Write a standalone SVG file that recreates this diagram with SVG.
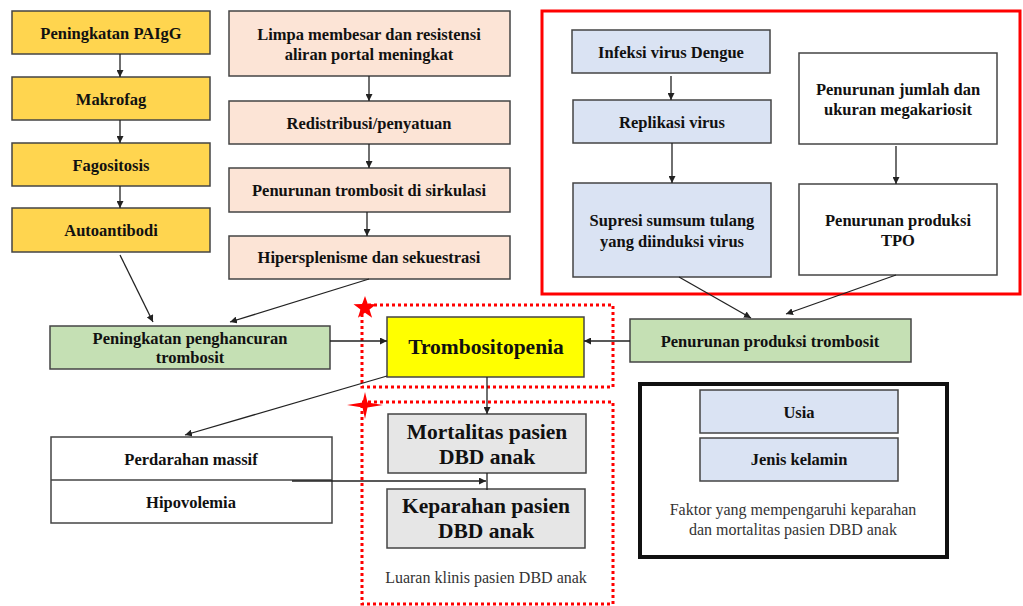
<svg xmlns="http://www.w3.org/2000/svg" width="1023" height="606" viewBox="0 0 1023 606">
<defs>
<marker id="ah" viewBox="0 0 10 10" refX="10" refY="5" markerWidth="7" markerHeight="7" orient="auto" markerUnits="userSpaceOnUse">
<path d="M0,0 L10,5 L0,10 z" fill="#222"/>
</marker>
<style>
.b{stroke:#444;stroke-width:1.5}
.gold{fill:#FFD54F}
.peach{fill:#FCE4D6}
.blue{fill:#DAE3F3}
.green{fill:#C5E0B4}
.wh{fill:#fff}
.gray{fill:#E6E6E6}
.t{font-weight:bold;font-size:16.5px;fill:#111;text-anchor:middle}
.big{font-size:21.5px}
.n{font-size:16px;fill:#333;text-anchor:middle}
.c{stroke:#222;stroke-width:1.3;fill:none}
.dot{fill:none;stroke:#F00;stroke-width:3;stroke-dasharray:3 3}
</style>
</defs>
<rect width="1023" height="606" fill="#fff"/>

<g id="groups">
<rect x="542" y="11" width="478" height="283" fill="none" stroke="#F00" stroke-width="3"/>
<rect x="640" y="384" width="307" height="173" fill="none" stroke="#111" stroke-width="4"/>
<rect x="362" y="305" width="251" height="82" class="dot"/>
<rect x="362" y="402" width="251" height="202" class="dot"/>
</g>

<g font-family="Liberation Serif, Times New Roman, serif">
<g id="n1"><rect x="12" y="11" width="198" height="43" class="b gold"/><text x="111" y="39" class="t">Peningkatan PAIgG</text></g>
<g id="n2"><rect x="12" y="77" width="198" height="43" class="b gold"/><text x="111" y="105" class="t">Makrofag</text></g>
<g id="n3"><rect x="12" y="143" width="198" height="43" class="b gold"/><text x="111" y="171" class="t">Fagositosis</text></g>
<g id="n4"><rect x="12" y="208" width="198" height="44" class="b gold"/><text x="111" y="236" class="t">Autoantibodi</text></g>

<g id="p1"><rect x="229" y="11" width="281" height="65" class="b peach"/><text x="369" y="40" class="t">Limpa membesar dan resistensi</text><text x="369" y="60" class="t">aliran portal meningkat</text></g>
<g id="p2"><rect x="229" y="101" width="281" height="43" class="b peach"/><text x="369" y="129" class="t">Redistribusi/penyatuan</text></g>
<g id="p3"><rect x="229" y="168" width="281" height="44" class="b peach"/><text x="369" y="196" class="t">Penurunan trombosit di sirkulasi</text></g>
<g id="p4"><rect x="229" y="236" width="281" height="43" class="b peach"/><text x="369" y="263" class="t">Hipersplenisme dan sekuestrasi</text></g>

<g id="v1"><rect x="572" y="30" width="198" height="43" class="b blue"/><text x="671" y="58" class="t">Infeksi virus Dengue</text></g>
<g id="v2"><rect x="573" y="100" width="198" height="43" class="b blue"/><text x="672" y="128" class="t">Replikasi virus</text></g>
<g id="v3"><rect x="573" y="183" width="198" height="94" class="b blue"/><text x="672" y="226" class="t">Supresi sumsum tulang</text><text x="672" y="247" class="t">yang diinduksi virus</text></g>

<g id="w1"><rect x="799" y="53" width="198" height="91" class="b wh"/><text x="898" y="95" class="t">Penurunan jumlah dan</text><text x="898" y="115" class="t">ukuran megakariosit</text></g>
<g id="w2"><rect x="799" y="184" width="198" height="91" class="b wh"/><text x="898" y="226" class="t">Penurunan produksi</text><text x="898" y="246" class="t">TPO</text></g>

<g id="g1"><rect x="50" y="326" width="280" height="43" class="b green"/><text x="190" y="344" class="t">Peningkatan penghancuran</text><text x="190" y="363" class="t">trombosit</text></g>
<g id="g2"><rect x="630" y="319" width="281" height="43" class="b green"/><text x="770" y="347" class="t">Penurunan produksi trombosit</text></g>

<g id="tromb"><rect x="387" y="317" width="197" height="60" class="b" fill="#FFFF00"/><text x="486" y="354" class="t big">Trombositopenia</text></g>

<g id="mort"><rect x="388" y="414" width="198" height="59" class="b gray"/><text x="487" y="439" class="t big">Mortalitas pasien</text><text x="487" y="464" class="t big">DBD anak</text></g>
<g id="kep"><rect x="387" y="489" width="198" height="59" class="b gray"/><text x="486" y="513" class="t big">Keparahan pasien</text><text x="486" y="538" class="t big">DBD anak</text></g>
<text x="486" y="583" class="n">Luaran klinis pasien DBD anak</text>

<g id="perd"><rect x="51" y="437" width="281" height="86" class="b wh"/><line x1="51" y1="480" x2="332" y2="480" class="b"/><text x="191" y="465" class="t">Perdarahan massif</text><text x="191" y="508" class="t">Hipovolemia</text></g>

<g id="usia"><rect x="700" y="390" width="198" height="43" class="b blue"/><text x="799" y="418" class="t">Usia</text></g>
<g id="jk"><rect x="700" y="438" width="198" height="43" class="b blue"/><text x="799" y="465" class="t">Jenis kelamin</text></g>
<text x="793" y="515" class="n">Faktor yang mempengaruhi keparahan</text>
<text x="793" y="535" class="n">dan mortalitas pasien DBD anak</text>
</g>

<g id="stars">
<polygon points="365,296 367.8,304.1 376.4,304.3 369.5,309.5 372.1,317.7 365,312.8 357.9,317.7 360.5,309.5 353.5,304.3 362.2,304.1" fill="#F00"/>
<polygon points="365,392 367.5,402.5 383,405 367.5,407.5 365,419 362.5,407.5 347,405 362.5,402.5" fill="#F00"/>
</g>

<g id="connectors">
<line x1="120" y1="54" x2="120" y2="77" class="c" marker-end="url(#ah)"/>
<line x1="120" y1="120" x2="120" y2="143" class="c" marker-end="url(#ah)"/>
<line x1="120" y1="186" x2="120" y2="208" class="c" marker-end="url(#ah)"/>
<line x1="369" y1="76" x2="369" y2="101" class="c" marker-end="url(#ah)"/>
<line x1="369" y1="144" x2="369" y2="168" class="c" marker-end="url(#ah)"/>
<line x1="367" y1="212" x2="367" y2="236" class="c" marker-end="url(#ah)"/>
<line x1="671" y1="76" x2="671" y2="100" class="c" marker-end="url(#ah)"/>
<line x1="672" y1="143" x2="672" y2="183" class="c" marker-end="url(#ah)"/>
<line x1="896" y1="146" x2="896" y2="184" class="c" marker-end="url(#ah)"/>
<line x1="120" y1="255" x2="153" y2="322" class="c" marker-end="url(#ah)"/>
<line x1="369" y1="279" x2="230" y2="322" class="c" marker-end="url(#ah)"/>
<line x1="679" y1="277" x2="751" y2="318" class="c" marker-end="url(#ah)"/>
<line x1="896" y1="275" x2="786" y2="314" class="c" marker-end="url(#ah)"/>
<line x1="330" y1="341" x2="387" y2="341" class="c" marker-end="url(#ah)"/>
<line x1="630" y1="341" x2="584" y2="341" class="c" marker-end="url(#ah)"/>
<line x1="487" y1="377" x2="487" y2="414" class="c" marker-end="url(#ah)"/>
<line x1="387" y1="376" x2="185" y2="435" class="c" marker-end="url(#ah)"/>
<line x1="292" y1="481" x2="486" y2="481" class="c" marker-end="url(#ah)"/>
<line x1="487" y1="473" x2="487" y2="490" class="c"/>
</g>
</svg>
